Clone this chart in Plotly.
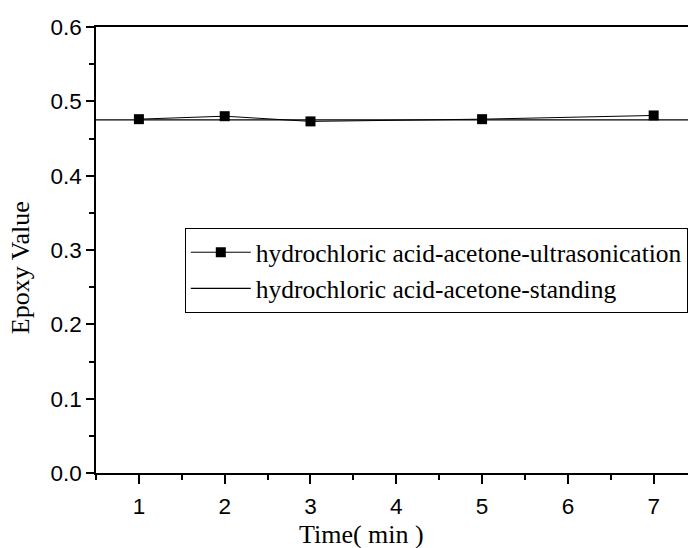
import plotly.graph_objects as go

# Data
times = [1, 2, 3, 5, 7]
ultrasonication = [0.476, 0.480, 0.473, 0.476, 0.481]
standing_x = [0.5, 7.4]
standing_y = [0.475, 0.475]

x_ticks = [1, 2, 3, 4, 5, 6, 7]
y_ticks = [0.0, 0.1, 0.2, 0.3, 0.4, 0.5, 0.6]

x_title = "Time( min )"
y_title = "Epoxy Value"

fig = go.Figure()
fig.add_trace(go.Scatter(
    x=times, y=ultrasonication, mode="lines+markers",
    name="hydrochloric acid-acetone-ultrasonication",
    line=dict(color="black", width=1),
    marker=dict(symbol="square", size=10, color="black"),
))
fig.add_trace(go.Scatter(
    x=standing_x, y=standing_y, mode="lines",
    name="hydrochloric acid-acetone-standing",
    line=dict(color="black", width=1.3),
))

axis_font = dict(family="Liberation Sans, Arial", size=22.5, color="black")
title_font = dict(family="Liberation Serif, Times New Roman", size=26, color="black")

fig.update_layout(
    width=688, height=548,
    margin=dict(l=96, r=0, t=27, b=75, autoexpand=False),
    plot_bgcolor="white", paper_bgcolor="white",
    showlegend=True,
    legend=dict(
        x=0.15, y=0.549, xanchor="left", yanchor="top",
        bordercolor="black", borderwidth=1, bgcolor="white",
        font=dict(family="Liberation Serif, Times New Roman", size=25.5, color="black"),
        tracegroupgap=0, itemwidth=60,
    ),
    xaxis=dict(
        range=[0.5, 7.4], tickvals=x_ticks, ticktext=[str(v) for v in x_ticks],
        showgrid=False, zeroline=False, showline=True, linecolor="black", linewidth=1.5,
        mirror=True,
        ticks="outside", ticklen=9, tickwidth=1.5, tickcolor="black",
        minor=dict(dtick=0.5, ticks="outside", ticklen=5, tickwidth=1.5, tickcolor="black", tick0=0.5),
        tickfont=axis_font, ticklabelstandoff=3,
    ),
    yaxis=dict(
        range=[0, 0.6], tickvals=y_ticks, ticktext=[f"{v:.1f}" for v in y_ticks],
        showgrid=False, zeroline=False, showline=True, linecolor="black", linewidth=1.5,
        ticks="outside", ticklen=8, tickwidth=1.5, tickcolor="black",
        minor=dict(dtick=0.05, ticks="outside", ticklen=5, tickwidth=1.5, tickcolor="black"),
        tickfont=axis_font,
    ),
    annotations=[
        dict(text=x_title, xref="paper", yref="paper", x=0.449, y=-0.1385,
             xanchor="center", yanchor="middle", showarrow=False, font=title_font),
        dict(text=y_title, xref="paper", yref="paper", x=-0.128, y=0.4596,
             xanchor="center", yanchor="middle", showarrow=False, font=title_font,
             textangle=-90),
    ],
)

fig.write_html("out.html")
